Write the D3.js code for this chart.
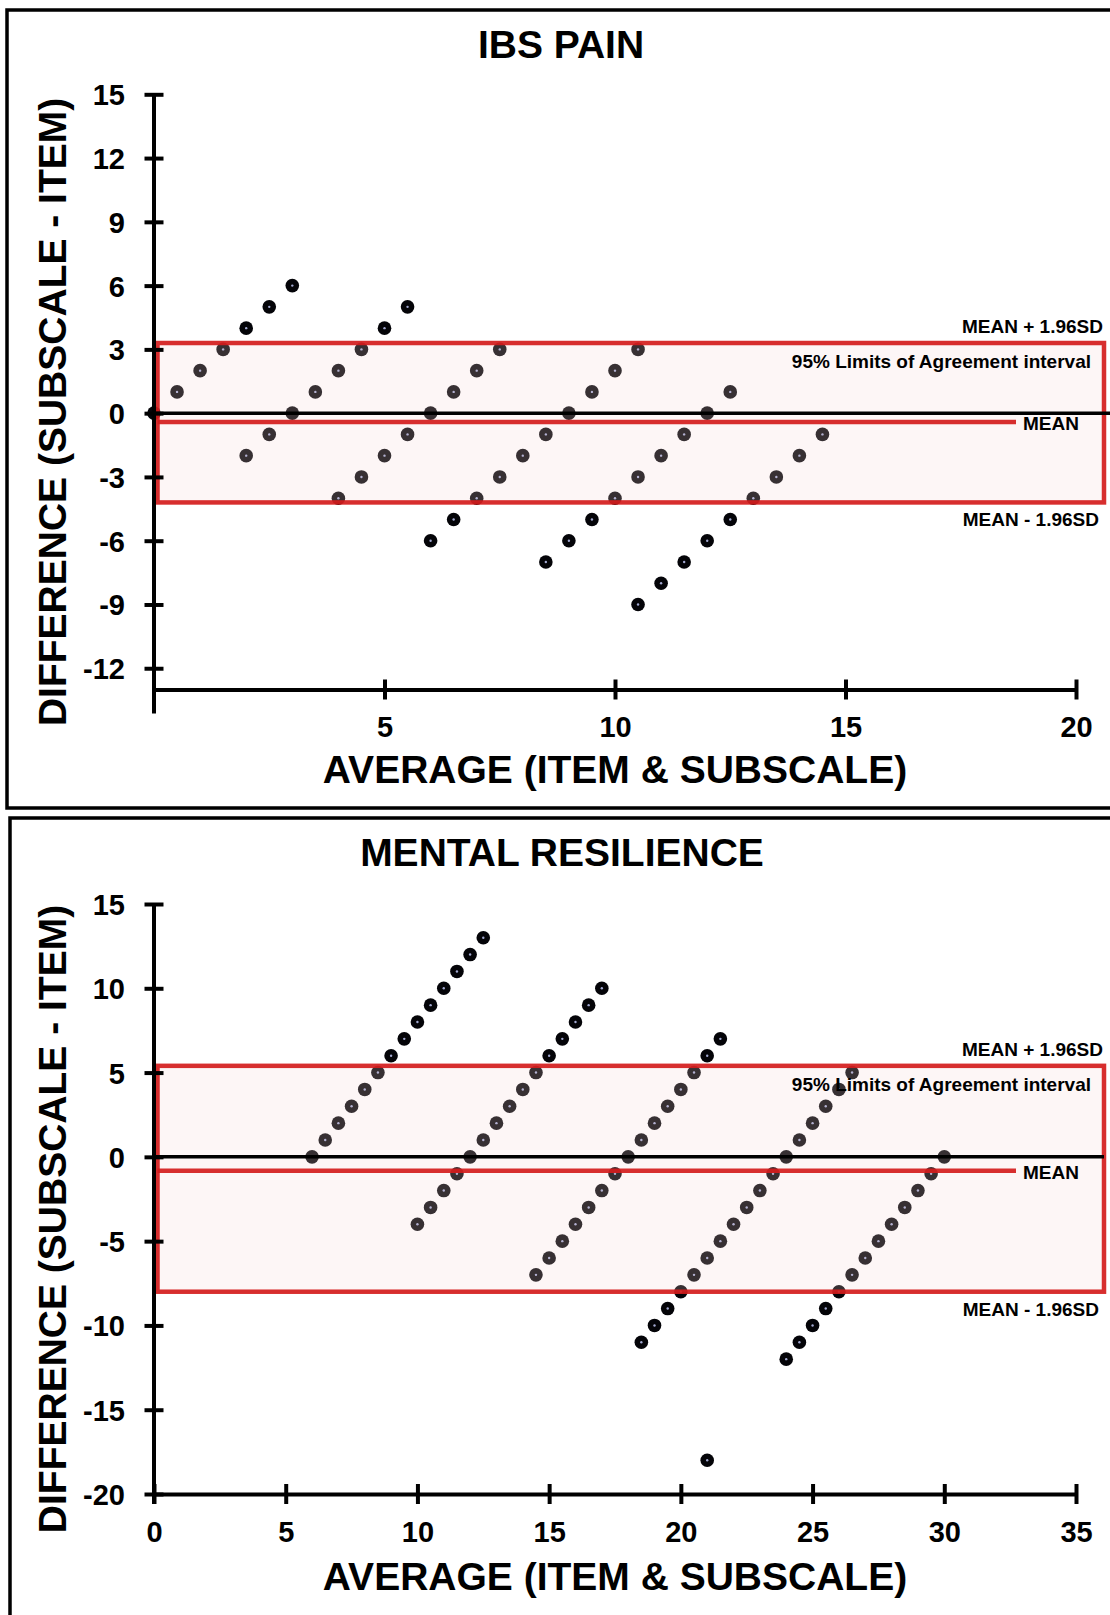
<!DOCTYPE html>
<html>
<head>
	<meta charset="UTF-8">
	<title>Bland-Altman plots</title>
	<script src="https://cdn.jsdelivr.net/npm/d3@7"></script>
	<style>
		body { margin: 0; background: #fff; }
		text { font-family: "Liberation Sans", Arial, sans-serif; font-weight: bold; fill: #000; }
	</style>
</head>
<body>
<script type="text/javascript">
	// ---- data ----
	var ibsTitle = "IBS PAIN";
	var ibsAverage = [0,
		0.5, 1, 1.5, 2, 2.5, 3,
		2, 2.5, 3, 3.5, 4, 4.5, 5, 5.5,
		4, 4.5, 5, 5.5, 6, 6.5, 7, 7.5,
		6, 6.5, 7, 7.5, 8, 8.5, 9, 9.5, 10, 10.5,
		8.5, 9, 9.5, 10, 10.5, 11, 11.5, 12, 12.5,
		10.5, 11, 11.5, 12, 12.5, 13, 13.5, 14, 14.5];
	var ibsDifference = [0,
		1, 2, 3, 4, 5, 6,
		-2, -1, 0, 1, 2, 3, 4, 5,
		-4, -3, -2, -1, 0, 1, 2, 3,
		-6, -5, -4, -3, -2, -1, 0, 1, 2, 3,
		-7, -6, -5, -4, -3, -2, -1, 0, 1,
		-9, -8, -7, -6, -5, -4, -3, -2, -1];
	var ibsLimits = [3.3, -0.42, -4.2];   // mean + 1.96SD, mean, mean - 1.96SD
	var ibsXDomain = [0, 20];
	var ibsYDomain = [-13, 15];
	var ibsXTicks = [5, 10, 15, 20];
	var ibsYTicks = [15, 12, 9, 6, 3, 0, -3, -6, -9, -12];

	var mrTitle = "MENTAL RESILIENCE";
	var mrAverage = [
		6, 6.5, 7, 7.5, 8, 8.5, 9, 9.5, 10, 10.5, 11, 11.5, 12, 12.5,
		10, 10.5, 11, 11.5, 12, 12.5, 13, 13.5, 14, 14.5, 15, 15.5, 16, 16.5, 17,
		14.5, 15, 15.5, 16, 16.5, 17, 17.5, 18, 18.5, 19, 19.5, 20, 20.5, 21, 21.5,
		18.5, 19, 19.5, 20, 20.5, 21, 21.5, 22, 22.5, 23, 23.5, 24, 24.5, 25, 25.5, 26, 26.5,
		24, 24.5, 25, 25.5, 26, 26.5, 27, 27.5, 28, 28.5, 29, 29.5, 30,
		21];
	var mrDifference = [
		0, 1, 2, 3, 4, 5, 6, 7, 8, 9, 10, 11, 12, 13,
		-4, -3, -2, -1, 0, 1, 2, 3, 4, 5, 6, 7, 8, 9, 10,
		-7, -6, -5, -4, -3, -2, -1, 0, 1, 2, 3, 4, 5, 6, 7,
		-11, -10, -9, -8, -7, -6, -5, -4, -3, -2, -1, 0, 1, 2, 3, 4, 5,
		-12, -11, -10, -9, -8, -7, -6, -5, -4, -3, -2, -1, 0,
		-18];
	var mrLimits = [5.4, -0.82, -8.0];
	var mrXDomain = [0, 35];
	var mrYDomain = [-20, 15];
	var mrXTicks = [0, 5, 10, 15, 20, 25, 30, 35];
	var mrYTicks = [15, 10, 5, 0, -5, -10, -15, -20];

	var xLabel = "AVERAGE (ITEM & SUBSCALE)";
	var yLabel = "DIFFERENCE (SUBSCALE - ITEM)";
	var upperLabel = "MEAN + 1.96SD";
	var lowerLabel = "MEAN - 1.96SD";
	var meanLabel = "MEAN";
	var bandLabel = "95% Limits of Agreement interval";

	//create the canvas
	var canvas = d3.select("body")
					.append("svg")
					.attr("width", 1110)
					.attr("height", 1615);

	function drawPanel(p) {
		var g = canvas.append("g");
		var x = d3.scaleLinear().domain(p.xDomain).range([154, 1076]);
		var y = d3.scaleLinear().domain(p.yDomain).range(p.yRange);
		var x0 = x(p.xDomain[0]);
		var yBottom = y(p.yDomain[0]);

		// panel frame
		g.append("rect")
			.attr("x", p.frame[0]).attr("y", p.frame[1])
			.attr("width", 1130).attr("height", p.frame[2])
			.attr("fill", "none").attr("stroke", "#000").attr("stroke-width", 3.5);

		g.append("text")
			.attr("x", p.titleX).attr("y", p.frame[1] + 48)
			.attr("text-anchor", "middle").style("font-size", "39px")
			.text(p.title);

		// points
		var pts = p.avg.map(function (a, i) { return [a, p.diff[i]]; });
		g.selectAll(".pt").data(pts).enter().append("circle")
			.attr("cx", function (d) { return x(d[0]); })
			.attr("cy", function (d) { return y(d[1]); })
			.attr("r", 6.8).attr("fill", "#040408");
		g.selectAll(".dot").data(pts).enter().append("circle")
			.attr("cx", function (d) { return x(d[0]); })
			.attr("cy", function (d) { return y(d[1]); })
			.attr("r", 1.2).attr("fill", "#a2a8d0");

		// limits of agreement box
		var boxLeft = x0 + 3.5, boxRight = x0 + 950;
		g.append("rect")
			.attr("x", boxLeft).attr("y", y(p.limits[0]))
			.attr("width", boxRight - boxLeft)
			.attr("height", y(p.limits[2]) - y(p.limits[0]))
			.attr("fill", "rgba(245,212,212,0.21)")
			.attr("stroke", "#d41c1c").attr("stroke-opacity", 0.92).attr("stroke-width", 4.5);

		// zero line
		g.append("line")
			.attr("x1", x0).attr("x2", p.zeroEnd)
			.attr("y1", y(0)).attr("y2", y(0))
			.attr("stroke", "#000").attr("stroke-width", 3.5);

		// mean line
		g.append("line")
			.attr("x1", boxLeft).attr("x2", x0 + 862)
			.attr("y1", y(p.limits[1])).attr("y2", y(p.limits[1]))
			.attr("stroke", "#d41c1c").attr("stroke-opacity", 0.92).attr("stroke-width", 4.5);

		g.append("text").attr("x", 1103).attr("y", y(p.limits[0]) - 10)
			.attr("text-anchor", "end").style("font-size", "19px").text(upperLabel);
		g.append("text").attr("x", 1091).attr("y", y(p.limits[0]) + 25)
			.attr("text-anchor", "end").style("font-size", "19px").text(bandLabel);
		g.append("text").attr("x", x0 + 869).attr("y", y(p.limits[1]) + 8)
			.style("font-size", "19px").text(meanLabel);
		g.append("text").attr("x", 1099).attr("y", y(p.limits[2]) + 24)
			.attr("text-anchor", "end").style("font-size", "19px").text(lowerLabel);

		// axes
		g.append("line")
			.attr("x1", x0).attr("x2", x0)
			.attr("y1", y(p.yDomain[1])).attr("y2", yBottom + p.yAxisExtend)
			.attr("stroke", "#000").attr("stroke-width", 4);

		var yAxis = g.append("g")
			.attr("transform", "translate(" + x0 + ",0)")
			.call(d3.axisLeft(y).tickValues(p.yTicks).tickSizeOuter(0)
				.tickFormat(function (d) { return String(d); }));
		yAxis.select(".domain").remove();
		yAxis.selectAll(".tick line").attr("x1", -9.5).attr("x2", 9.5)
			.attr("stroke", "#000").attr("stroke-width", 4);
		yAxis.selectAll(".tick text").attr("x", -29).attr("dy", "0.36em")
			.attr("fill", "#000").style("font-size", "29px")
			.style("font-family", "'Liberation Sans', Arial, sans-serif");

		var xAxis = g.append("g")
			.attr("transform", "translate(0," + yBottom + ")")
			.call(d3.axisBottom(x).tickValues(p.xTicks).tickSizeOuter(0)
				.tickFormat(function (d) { return String(d); }));
		xAxis.select(".domain").attr("stroke", "#000").attr("stroke-width", 4);
		xAxis.selectAll(".tick line").attr("y1", -10).attr("y2", 10)
			.attr("stroke", "#000").attr("stroke-width", 4);
		xAxis.selectAll(".tick text").attr("y", 47.5).attr("dy", 0)
			.attr("fill", "#000").style("font-size", "29px")
			.style("font-family", "'Liberation Sans', Arial, sans-serif");

		// axis titles
		g.append("text")
			.attr("x", 615).attr("y", yBottom + p.xTitleGap)
			.attr("text-anchor", "middle").style("font-size", "39px")
			.text(xLabel);
		var yc = (y(p.yDomain[0]) + y(p.yDomain[1])) / 2 + 20;
		g.append("text")
			.attr("transform", "translate(66," + yc + ") rotate(-90)")
			.attr("text-anchor", "middle").style("font-size", "39px")
			.text(yLabel);
	}

	drawPanel({
		title: ibsTitle, avg: ibsAverage, diff: ibsDifference, limits: ibsLimits,
		xDomain: ibsXDomain, yDomain: ibsYDomain, xTicks: ibsXTicks, yTicks: ibsYTicks,
		yRange: [689.5, 94.3], frame: [7, 10, 798], titleX: 561,
		zeroEnd: 1112, yAxisExtend: 24, xTitleGap: 93
	});
	drawPanel({
		title: mrTitle, avg: mrAverage, diff: mrDifference, limits: mrLimits,
		xDomain: mrXDomain, yDomain: mrYDomain, xTicks: mrXTicks, yTicks: mrYTicks,
		yRange: [1494, 904], frame: [10, 818, 820], titleX: 562,
		zeroEnd: 1104, yAxisExtend: 10, xTitleGap: 96
	});
</script>
</body>
</html>
